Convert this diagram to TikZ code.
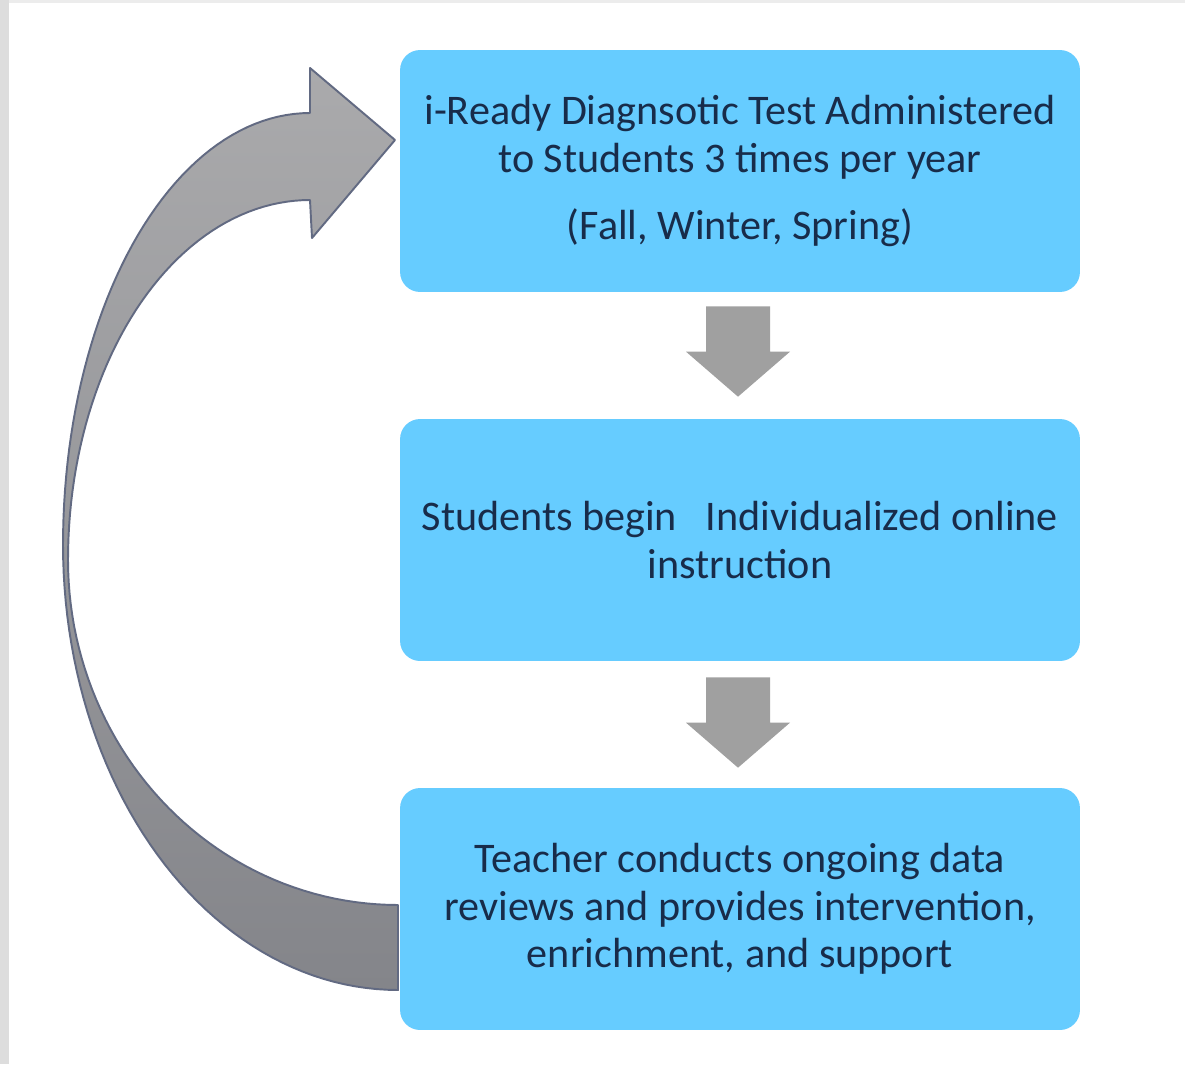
\documentclass[tikz,border=0pt]{standalone}
\usepackage{fontspec}
\setmainfont{Carlito}
\usetikzlibrary{calc}
\definecolor{boxblue}{RGB}{102,204,255}
\definecolor{txtcol}{RGB}{24,44,74}
\definecolor{blockgray}{RGB}{160,160,160}
\definecolor{curvetop}{RGB}{170,170,172}
\definecolor{curvebot}{RGB}{132,133,138}
\definecolor{curveline}{RGB}{98,106,130}
\definecolor{framegray}{RGB}{221,221,221}
\definecolor{framegraytop}{RGB}{236,236,236}
\tikzset{
  stepbox/.style={draw=none, fill=boxblue, rounded corners=0.4cm,
    minimum width=13.6cm, minimum height=4.84cm, inner sep=0pt,
    align=center, text=txtcol, font=\fontsize{24}{27}\selectfont},
  blockarrow/.style={fill=blockgray, draw=none},
  curvearrow/.style={top color=curvetop, bottom color=curvebot,
    draw=curveline, line width=1.1pt, line join=round}
}
\begin{document}
\begin{tikzpicture}[x=0.02cm,y=-0.02cm]
\useasboundingbox (0,0) rectangle (1185,1064);
\fill[white] (0,0) rectangle (1185,1064);
\fill[framegraytop] (0,0) rectangle (1185,3);
\fill[framegray] (0,0) rectangle (9,1064);

% curved return arrow (drawn first, boxes lie over its ends)
\path[curvearrow] (398,990)
  -- plot[domain=90:180,samples=50,variable=\t] ({398+335*cos(\t)},{545+445*sin(\t)})
  -- plot[domain=180:270,samples=50,variable=\t] ({310+247*cos(\t)},{545+432*sin(\t)})
  -- (310,68) -- (395,140) -- (312,238) -- (310,200)
  -- plot[domain=270:180,samples=50,variable=\t] ({310+242*cos(\t)},{560+360*sin(\t)})
  -- plot[domain=180:90,samples=50,variable=\t] ({398+330*cos(\t)},{560+345*sin(\t)})
  -- cycle;

\node[stepbox] (b1) at (740,171) {i-Ready Diagnsotic Test Administered\\to Students 3 times per year\\[0.4cm](Fall, Winter, Spring)};
\node[stepbox] (b2) at (740,540) {Students begin \ \ Individualized online\\instruction};
\node[stepbox] (b3) at (740,909) {Teacher conducts ongoing data\\reviews and provides intervention,\\enrichment, and support};

% block arrows between boxes
\coordinate (a1s) at ($(b1.south)+(-2,14)$);
\coordinate (a1e) at ($(b2.north)+(-2,-22)$);
\fill[blockarrow] ($(a1s)+(-32,0)$) -- ($(a1s)+(32,0)$) -- ($(a1e)+(32,-45)$) -- ($(a1e)+(52,-45)$)
  -- (a1e) -- ($(a1e)+(-52,-45)$) -- ($(a1e)+(-32,-45)$) -- cycle;
\coordinate (a2s) at ($(b2.south)+(-2,16)$);
\coordinate (a2e) at ($(b3.north)+(-2,-20)$);
\fill[blockarrow] ($(a2s)+(-32,0)$) -- ($(a2s)+(32,0)$) -- ($(a2e)+(32,-45)$) -- ($(a2e)+(52,-45)$)
  -- (a2e) -- ($(a2e)+(-52,-45)$) -- ($(a2e)+(-32,-45)$) -- cycle;
\end{tikzpicture}
\end{document}
